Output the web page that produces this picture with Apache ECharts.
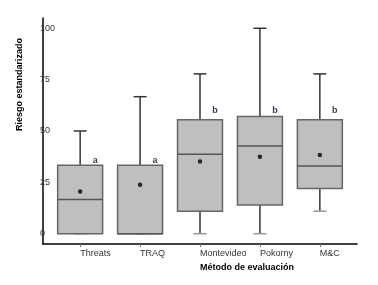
<!DOCTYPE html>
<html>
<head>
<meta charset="utf-8">
<script src="https://cdn.jsdelivr.net/npm/echarts@6/dist/echarts.min.js"></script>
<style>
html, body { margin: 0; padding: 0; background: #fff; }
#chart { width: 378px; height: 285px; }
</style>
</head>
<body>
<div id="chart"></div>
<script>
// categories and box stats (min, q1, median, q3, max)
const categories = ['Threats', 'TRAQ', 'Montevideo', 'Pokorny', 'M&C']
const minVals = [0, 0, 0, 0, 11]
const q1Vals = [0, 0, 11, 14, 22]
const medianVals = [16.7, 0, 38.7, 42.7, 33]
const q3Vals = [33.3, 33.3, 55.5, 57, 55.5]
const maxVals = [50, 66.7, 77.8, 100, 77.8]
const meanVals = [20.5, 23.8, 35.2, 37.5, 38.3]
const letters = ['a', 'a', 'b', 'b', 'b']
const letterY = [35.5, 35.5, 59.8, 59.8, 59.8]
const yTicks = [0, 25, 50, 75, 100]

const font = 'Liberation Sans, Arial, sans-serif'
const idx = categories.map((c, i) => i)

let boxData = idx.map(i => [i, minVals[i], q1Vals[i], medianVals[i], q3Vals[i], maxVals[i]])
let meanData = idx.map(i => [i, meanVals[i]])
let letterData = idx.map(i => [i + 0.25, letterY[i]])

let myChart = echarts.init(document.getElementById('chart'))
let option = {
    backgroundColor: '#FFFFFF',
    animation: false,
    grid: {
        left: 43,
        right: 21,
        top: 18,
        bottom: 41
    },
    xAxis: {
        type: 'value',
        min: -0.62,
        max: 4.62,
        name: 'Método de evaluación',
        nameLocation: 'middle',
        nameGap: 16,
        nameTextStyle: {
            align: 'left',
            fontFamily: font,
            fontSize: 9,
            fontWeight: 'bold',
            color: '#000'
        },
        splitLine: { show: false },
        axisLine: {
            onZero: false,
            lineStyle: { color: '#000', width: 1.5 }
        },
        axisTick: {
            customValues: idx,
            length: 3,
            lineStyle: { color: '#777', width: 1 }
        },
        axisLabel: {
            customValues: idx,
            align: 'left',
            margin: 5,
            fontFamily: font,
            fontSize: 9,
            color: '#333',
            formatter: v => categories[Math.round(v)]
        }
    },
    yAxis: {
        type: 'value',
        min: -5,
        max: 105,
        name: 'Riesgo estandarizado',
        nameLocation: 'middle',
        nameGap: 19,
        nameTextStyle: {
            align: 'left',
            fontFamily: font,
            fontSize: 9,
            fontWeight: 'bold',
            color: '#000'
        },
        splitLine: { show: false },
        axisLine: {
            show: true,
            onZero: false,
            lineStyle: { color: '#000', width: 1.5 }
        },
        axisTick: { show: false },
        axisLabel: {
            customValues: yTicks,
            align: 'left',
            margin: 3,
            padding: [4, 0, 0, 0],
            fontFamily: font,
            fontSize: 9,
            color: '#333'
        }
    },
    series: [
        {
            type: 'custom',
            data: boxData,
            encode: { x: 0, y: [1, 2, 3, 4, 5] },
            renderItem: function(params, api) {
                const x = api.value(0)
                const pMin = api.coord([x, api.value(1)])
                const pQ1 = api.coord([x, api.value(2)])
                const pMed = api.coord([x, api.value(3)])
                const pQ3 = api.coord([x, api.value(4)])
                const pMax = api.coord([x, api.value(5)])
                const half = api.size([1, 0])[0] * 0.375
                const cap = 6.5
                const cx = pMed[0]
                const whisker = { stroke: '#333', lineWidth: 1.5 }
                return {
                    type: 'group',
                    children: [
                        { type: 'line', shape: { x1: cx, y1: pQ3[1], x2: cx, y2: pMax[1] }, style: whisker },
                        { type: 'line', shape: { x1: cx - cap, y1: pMax[1], x2: cx + cap, y2: pMax[1] }, style: whisker },
                        { type: 'line', shape: { x1: cx, y1: pQ1[1], x2: cx, y2: pMin[1] }, style: whisker },
                        { type: 'line', shape: { x1: cx - cap, y1: pMin[1], x2: cx + cap, y2: pMin[1] }, style: { stroke: '#999', lineWidth: 1.5 } },
                        {
                            type: 'rect',
                            shape: { x: cx - half, y: pQ3[1], width: half * 2, height: pQ1[1] - pQ3[1] },
                            style: { fill: '#bfbfbf', stroke: '#666', lineWidth: 1.5 }
                        },
                        { type: 'line', shape: { x1: cx - half, y1: pMed[1], x2: cx + half, y2: pMed[1] }, style: { stroke: '#555', lineWidth: 1.5 } }
                    ]
                }
            }
        },
        {
            type: 'scatter',
            data: meanData,
            symbol: 'circle',
            symbolSize: 4.5,
            itemStyle: { color: '#000' },
            z: 5
        },
        {
            type: 'scatter',
            data: letterData,
            symbolSize: 0,
            label: {
                show: true,
                position: 'inside',
                formatter: p => letters[p.dataIndex],
                fontFamily: font,
                fontSize: 9,
                fontWeight: 'bold',
                color: '#0a0a2a'
            },
            z: 5
        }
    ]
}
myChart.setOption(option)
window.addEventListener('resize', function() {
    myChart.resize()
})
</script>
</body>
</html>
